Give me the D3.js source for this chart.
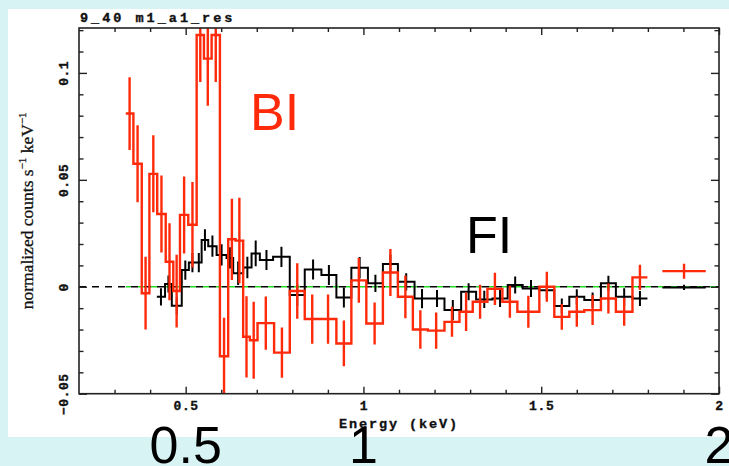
<!DOCTYPE html>
<html><head><meta charset="utf-8">
<script src="https://cdn.jsdelivr.net/npm/d3@7"></script>
<style>
html,body{margin:0;padding:0;background:#d7f3f4;}
svg{display:block;}
</style></head><body>
<svg id="chart" width="729" height="466"></svg>
<script>
// ---------- DATA ----------
// BI (red) spectrum residuals: bin edges (keV), value, 1-sigma error
const biLo=[0.3316,0.353,0.3765,0.398,0.420,0.4439,0.4652,0.484,0.5073,0.5309,0.5514,0.573,0.5963,0.6196,0.6404,0.6617,0.6805,0.7021,0.7487,0.7928,0.8349,0.877,0.9239,0.966,1.0081,1.0547,1.0969,1.139,1.1811,1.2279,1.2701,1.3074,1.3487,1.3908,1.4329,1.4947,1.5368,1.579,1.6211,1.6679,1.71,1.7566,1.8407];
const biHi=[0.353,0.3765,0.398,0.420,0.4439,0.4652,0.484,0.5073,0.5309,0.5514,0.573,0.5963,0.6196,0.6404,0.6617,0.6805,0.7021,0.7487,0.7928,0.8349,0.877,0.9239,0.966,1.0081,1.0547,1.0969,1.139,1.1811,1.2279,1.2701,1.3074,1.3487,1.3908,1.4329,1.4947,1.5368,1.579,1.6211,1.6679,1.71,1.7566,1.7987,1.9627];
const biVal=[0.081,0.0575,-0.003,0.0528,0.034,0.0117,-0.002,0.0336,0.029,0.1177,0.1067,0.1177,-0.0325,0.0222,0.0216,-0.0234,-0.025,-0.017,-0.0308,-0.002,-0.0151,-0.0151,-0.0265,0.003,-0.0172,0.0067,-0.0047,-0.020,-0.0205,-0.0164,-0.0117,-0.007,-0.001,-0.007,-0.0117,0.0,-0.0141,-0.0117,-0.0109,-0.0055,-0.0117,0.0044,0.0073];
const biErr=[0.017,0.018,0.017,0.018,0.018,0.018,0.017,0.018,0.020,0.022,0.022,0.022,0.018,0.019,0.020,0.019,0.018,0.0125,0.0117,0.013,0.0115,0.0115,0.0107,0.0105,0.0098,0.011,0.010,0.009,0.0085,0.007,0.009,0.008,0.0075,0.0075,0.0075,0.007,0.006,0.007,0.007,0.007,0.0065,0.0059,0.0035];

// FI (black) spectrum residuals
const fiLo=[0.419,0.442,0.461,0.489,0.509,0.529,0.5449,0.5635,0.587,0.6151,0.6336,0.6617,0.6853,0.7086,0.7459,0.7928,0.8349,0.8818,0.9239,0.966,1.0126,1.0547,1.0969,1.1437,1.1858,1.2279,1.2748,1.3169,1.3627,1.4057,1.4478,1.4947,1.5368,1.579,1.6211,1.6679,1.71,1.7566,1.8407];
const fiHi=[0.442,0.461,0.489,0.509,0.529,0.5449,0.5635,0.587,0.6151,0.6336,0.6617,0.6853,0.7086,0.7459,0.7928,0.8349,0.8818,0.9239,0.966,1.0126,1.0547,1.0969,1.1437,1.1858,1.2279,1.2748,1.3169,1.3627,1.4057,1.4478,1.4947,1.5368,1.579,1.6211,1.6679,1.71,1.7566,1.7987,1.9627];
const fiVal=[-0.0047,0.0013,-0.0089,0.0078,0.0113,0.0113,0.0219,0.019,0.0149,0.0135,0.0063,0.009,0.0156,0.0125,0.014,-0.0039,0.0081,0.0055,-0.005,0.0089,0.0016,0.0106,0.0023,-0.0055,-0.0055,-0.0109,-0.0023,-0.0059,-0.0055,0.0008,-0.0008,-0.0016,-0.009,-0.0047,-0.0062,0.0016,-0.0047,-0.0055,-0.0003];
const fiErr=[0.004,0.004,0.004,0.0045,0.0045,0.0045,0.005,0.005,0.005,0.005,0.0055,0.005,0.006,0.0047,0.0047,0.005,0.0047,0.0047,0.0047,0.005,0.004,0.0045,0.004,0.0045,0.004,0.0047,0.004,0.004,0.004,0.004,0.004,0.0035,0.0035,0.0035,0.0035,0.0035,0.004,0.0035,0.0012];

const xMajorTicks=[0.5,1,1.5,2];
const xMajorLabels=["0.5","1","1.5","2"];
const xMinorTicks=[0.3,0.4,0.6,0.7,0.8,0.9,1.1,1.2,1.3,1.4,1.6,1.7,1.8,1.9];
const yMajorTicks=[-0.05,0,0.05,0.1];
const yMajorLabels=["\u22120.05","0","0.05","0.1"];
const yMinorTicks=[-0.04,-0.03,-0.02,-0.01,0.01,0.02,0.03,0.04,0.06,0.07,0.08,0.09,0.11,0.12];
const bigLabelValues=[0.5,1,2];
const bigLabelTexts=["0.5","1","2"];
const titleText="9_40 m1_a1_res";
const xTitle="Energy (keV)";

// ---------- DRAW ----------
const W=729,H=466;
const svg=d3.select("#chart");
svg.append("rect").attr("width",W).attr("height",H).attr("fill","#d7f3f4");
svg.append("rect").attr("x",8).attr("y",9).attr("width",W-8).attr("height",428).attr("fill","#ffffff");

const m={l:79,r:719,t:28,b:393.7};
const x=d3.scaleLinear().domain([0.2,2]).range([m.l,m.r]);
const y=d3.scaleLinear().domain([-0.05,0.121]).range([m.b,m.t]);

svg.append("defs").append("clipPath").attr("id","clip")
  .append("rect").attr("x",m.l).attr("y",m.t).attr("width",m.r-m.l).attr("height",m.b-m.t);

const plot=svg.append("g").attr("clip-path","url(#clip)");

// zero lines
const y0=y(0);
plot.append("line").attr("x1",x(0.2)).attr("x2",x(2)).attr("y1",y0).attr("y2",y0)
  .attr("stroke","#000").attr("stroke-width",1.5).attr("stroke-dasharray","7,6");
const gStart=x(biLo[0]);
const period=13;
const gOff=(6+((gStart-x(0.2))%period))%period;
plot.append("line").attr("x1",gStart).attr("x2",x(2)).attr("y1",y0).attr("y2",y0)
  .attr("stroke","#22dd22").attr("stroke-width",1.6).attr("stroke-dasharray","6,7")
  .attr("stroke-dashoffset",gOff);

function buildPoints(lo,hi,val){
  const pts=[];
  for(let i=0;i<val.length;i++){
    if(i>0 && Math.abs(lo[i]-hi[i-1])>1e-6) pts.push(null);
    pts.push([lo[i],val[i]]);pts.push([hi[i],val[i]]);
  }
  return pts;
}
const line=d3.line().defined(d=>d!==null).x(d=>x(d[0])).y(d=>y(d[1]));

function drawSeries(lo,hi,val,err,color,sw){
  const g=plot.append("g");
  g.append("path").attr("d",line(buildPoints(lo,hi,val)))
    .attr("fill","none").attr("stroke",color).attr("stroke-width",sw).attr("stroke-linejoin","miter");
  g.selectAll("line.err").data(val.map((v,i)=>({c:(lo[i]+hi[i])/2,v:v,e:err[i]})))
    .join("line").attr("class","err")
    .attr("x1",d=>x(d.c)).attr("x2",d=>x(d.c))
    .attr("y1",d=>y(d.v-d.e)).attr("y2",d=>y(d.v+d.e))
    .attr("stroke",color).attr("stroke-width",sw);
}
drawSeries(fiLo,fiHi,fiVal,fiErr,"#000000",2);
drawSeries(biLo,biHi,biVal,biErr,"#ff2a0a",2.4);

// axes
const axCol="#222";
function styleAxis(g){
  g.select(".domain").remove();
  g.selectAll("line").attr("stroke",axCol).attr("stroke-width",1.4);
}
const monoFont="'Liberation Mono','DejaVu Sans Mono',monospace";
function heavy(sel,size,ls){
  sel.attr("font-family",monoFont).attr("font-weight","bold").attr("font-size",size)
    .attr("letter-spacing",ls).attr("fill","#111").attr("stroke","#111").attr("stroke-width",0.35);
}
// bottom major with labels
svg.append("g").attr("transform",`translate(0,${m.b})`)
  .call(d3.axisBottom(x).tickValues(xMajorTicks).tickSizeInner(-7).tickSizeOuter(0)
    .tickFormat((d,i)=>xMajorLabels[i]))
  .call(styleAxis)
  .call(g=>g.selectAll("text").attr("y",16.8).attr("dy",0).call(heavy,13,0.6));
svg.append("g").attr("transform",`translate(0,${m.b})`)
  .call(d3.axisBottom(x).tickValues(xMinorTicks).tickSizeInner(-4).tickSizeOuter(0).tickFormat(""))
  .call(styleAxis);
// top
svg.append("g").attr("transform",`translate(0,${m.t})`)
  .call(d3.axisTop(x).tickValues(xMajorTicks).tickSizeInner(-7).tickSizeOuter(0).tickFormat(""))
  .call(styleAxis);
svg.append("g").attr("transform",`translate(0,${m.t})`)
  .call(d3.axisTop(x).tickValues(xMinorTicks).tickSizeInner(-4).tickSizeOuter(0).tickFormat(""))
  .call(styleAxis);
// left with rotated labels
svg.append("g").attr("transform",`translate(${m.l},0)`)
  .call(d3.axisLeft(y).tickValues(yMajorTicks).tickSizeInner(-8).tickSizeOuter(0)
    .tickFormat((d,i)=>yMajorLabels[i]))
  .call(styleAxis)
  .call(g=>g.selectAll("text").attr("x",0).attr("dy",0).attr("text-anchor","middle")
    .attr("transform","translate(-11.5,0) rotate(-90)").call(heavy,13,0.5));
svg.append("g").attr("transform",`translate(${m.l},0)`)
  .call(d3.axisLeft(y).tickValues(yMinorTicks).tickSizeInner(-4.5).tickSizeOuter(0).tickFormat(""))
  .call(styleAxis);
// right
svg.append("g").attr("transform",`translate(${m.r},0)`)
  .call(d3.axisRight(y).tickValues(yMajorTicks).tickSizeInner(-8).tickSizeOuter(0).tickFormat(""))
  .call(styleAxis);
svg.append("g").attr("transform",`translate(${m.r},0)`)
  .call(d3.axisRight(y).tickValues(yMinorTicks).tickSizeInner(-4.5).tickSizeOuter(0).tickFormat(""))
  .call(styleAxis);
// frame
svg.append("rect").attr("x",m.l).attr("y",m.t).attr("width",m.r-m.l).attr("height",m.b-m.t)
  .attr("fill","none").attr("stroke",axCol).attr("stroke-width",1.6);

// title
svg.append("text").attr("x",80).attr("y",21.5).text(titleText).call(heavy,13.5,3.0);
// x title
svg.append("text").attr("x",(m.l+m.r)/2).attr("y",428).attr("text-anchor","middle").text(xTitle)
  .call(heavy,13.5,1.9);
// y title
const yt=svg.append("text").attr("transform",`translate(33,${(m.t+m.b)/2}) rotate(-90)`)
  .attr("text-anchor","middle").attr("font-family","'Liberation Serif','DejaVu Serif',serif")
  .attr("font-size",17.5).attr("fill","#111").attr("stroke","#111").attr("stroke-width",0.3);
yt.append("tspan").text("normalized counts s");
yt.append("tspan").attr("dy",-7).attr("font-size",11).text("\u22121");
yt.append("tspan").attr("dy",7).text(" keV");
yt.append("tspan").attr("dy",-7).attr("font-size",11).text("\u22121");

// big labels
svg.append("g").selectAll("text").data(bigLabelValues).join("text")
  .attr("x",d=>x(d)).attr("y",463).attr("text-anchor","middle")
  .attr("font-family","'Liberation Sans',Arial,sans-serif").attr("font-size",52).attr("fill","#000")
  .text((d,i)=>bigLabelTexts[i]);
svg.append("text").attr("x",250).attr("y",130).text("BI")
  .attr("font-family","'Liberation Sans',Arial,sans-serif").attr("font-size",52).attr("fill","#ff2a0a");
svg.append("text").attr("x",466).attr("y",253).text("FI")
  .attr("font-family","'Liberation Sans',Arial,sans-serif").attr("font-size",52).attr("fill","#000");
</script>
</body></html>
